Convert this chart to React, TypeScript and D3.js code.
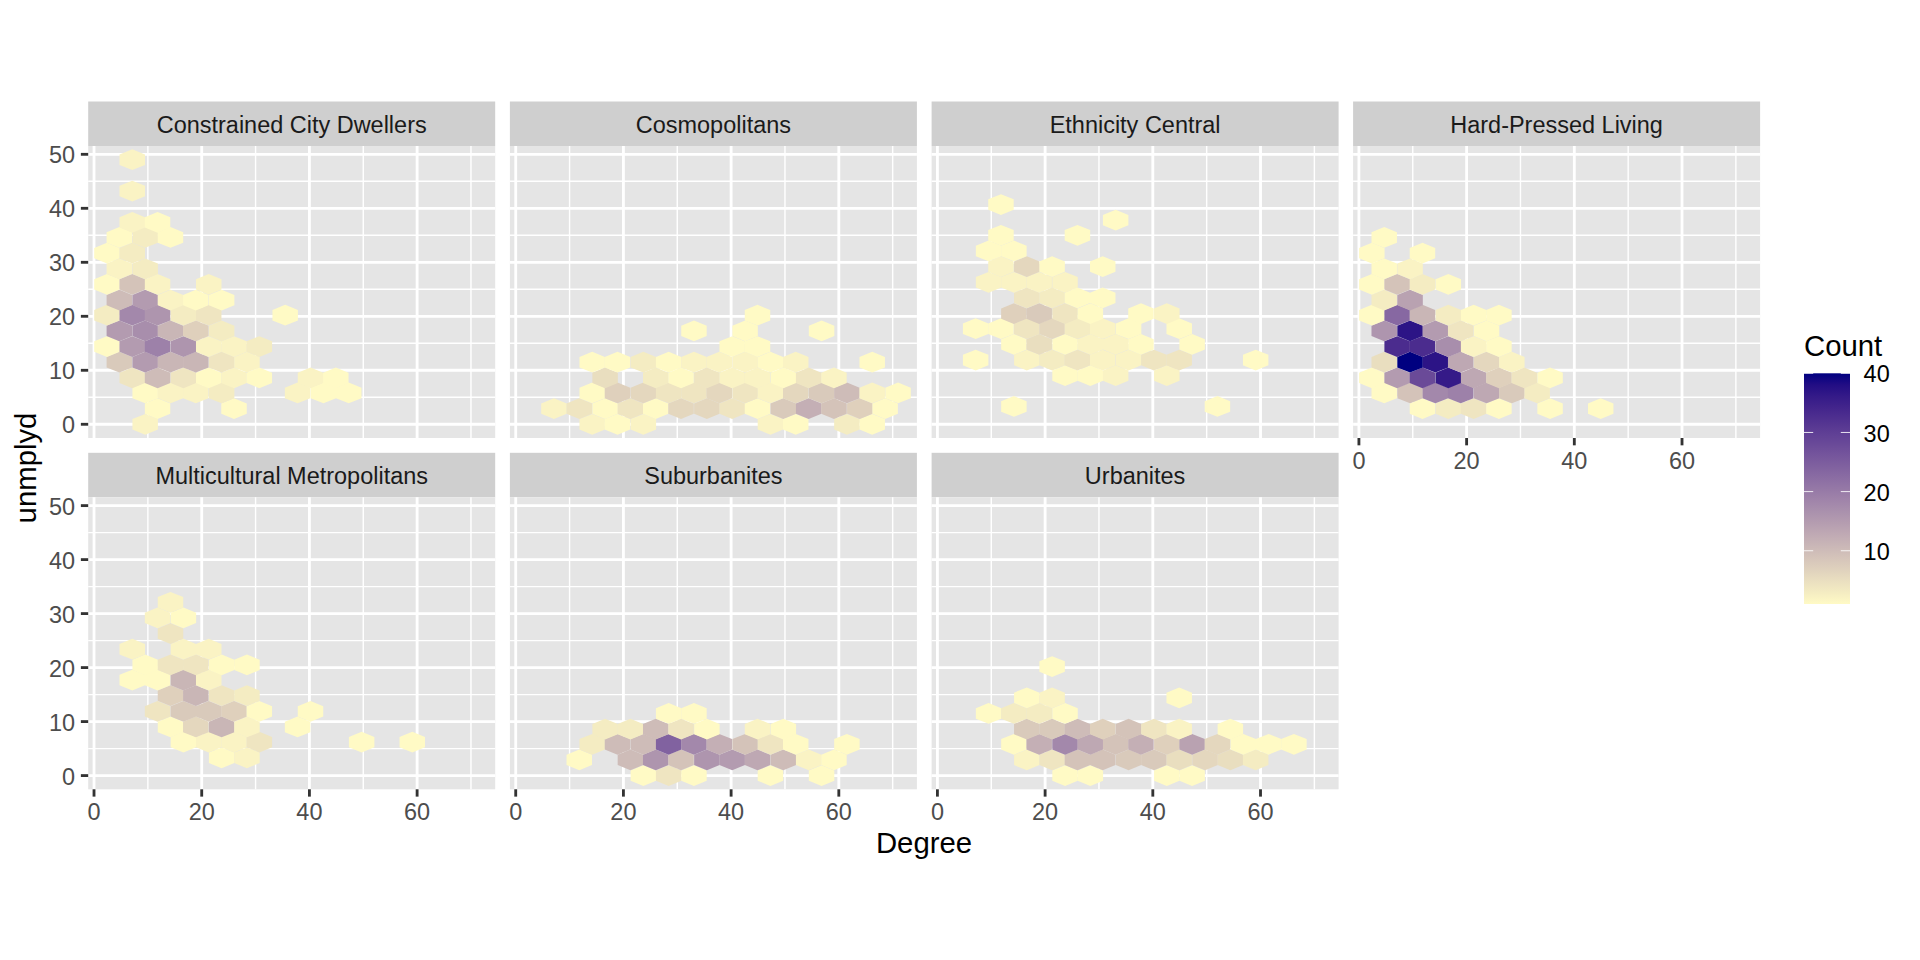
import React from "react";
import * as d3 from "d3";

type Cell = [number, number, number]; // degree, unmplyd, count

const constrainedCityDwellers: Cell[] = [
  [9.5,0,2],
  [11.8,2.9,1],[26,2.9,1],
  [9.5,5.8,1],[14.2,5.8,2],[18.9,5.8,2],[23.7,5.8,3],[37.8,5.8,2],[42.6,5.8,1],[47.3,5.8,1],
  [7.1,8.6,4],[11.8,8.6,10],[16.6,8.6,4],[21.3,8.6,1],[26,8.6,2],[30.7,8.6,1],[40.2,8.6,2],[44.9,8.6,1],
  [4.7,11.5,8],[9.5,11.5,15],[14.2,11.5,11],[18.9,11.5,11],[23.7,11.5,4],[28.4,11.5,2],
  [2.4,14.4,1],[7.1,14.4,15],[11.8,14.4,19],[16.6,14.4,16],[21.3,14.4,2],[26,14.4,2],[30.7,14.4,3],
  [4.7,17.3,15],[9.5,17.3,17],[14.2,17.3,11],[18.9,17.3,7],[23.7,17.3,3],
  [2.4,20.2,3],[7.1,20.2,18],[11.8,20.2,16],[16.6,20.2,3],[21.3,20.2,4],[35.5,20.2,1],
  [4.7,23,10],[9.5,23,15],[14.2,23,2],[18.9,23,1],[23.7,23,1],
  [2.4,25.9,1],[7.1,25.9,9],[11.8,25.9,2],[21.3,25.9,2],
  [4.7,28.8,2],[9.5,28.8,3],
  [2.4,31.7,1],[7.1,31.7,3],
  [4.7,34.6,1],[9.5,34.6,3],[14.2,34.6,1],
  [7.1,37.4,2],[11.8,37.4,1],
  [7.1,43.2,2],
  [7.1,49,2],
];

const cosmopolitans: Cell[] = [
  [14.2,0,2],[18.9,0,1],[23.7,0,2],[47.3,0,2],[52,0,1],[61.5,0,3],[66.2,0,1],
  [7.1,2.9,2],[11.8,2.9,4],[16.6,2.9,1],[21.3,2.9,4],[26,2.9,1],[30.7,2.9,6],[35.5,2.9,6],[40.2,2.9,4],[44.9,2.9,1],[49.7,2.9,8],[54.4,2.9,12],[59.1,2.9,9],[63.9,2.9,7],[68.6,2.9,1],
  [14.2,5.8,1],[18.9,5.8,7],[23.7,5.8,6],[28.4,5.8,4],[33.1,5.8,4],[37.8,5.8,6],[42.6,5.8,4],[47.3,5.8,2],[52,5.8,6],[56.8,5.8,8],[61.5,5.8,10],[66.2,5.8,2],[71,5.8,1],
  [16.6,8.6,5],[26,8.6,3],[30.7,8.6,1],[35.5,8.6,4],[40.2,8.6,2],[44.9,8.6,2],[49.7,8.6,1],[54.4,8.6,4],[59.1,8.6,2],
  [14.2,11.5,1],[18.9,11.5,1],[23.7,11.5,3],[28.4,11.5,1],[33.1,11.5,2],[37.8,11.5,2],[42.6,11.5,2],[47.3,11.5,1],[52,11.5,2],[66.2,11.5,1],
  [40.2,14.4,1],[44.9,14.4,1],
  [33.1,17.3,1],[42.6,17.3,1],[56.8,17.3,1],
  [44.9,20.2,1],
];

const ethnicityCentral: Cell[] = [
  [14.2,3.3,1],[52,3.3,1],
  [23.7,9,1],[28.4,9,1],[33.1,9,2],[42.6,9,2],
  [7.1,11.9,1],[16.6,11.9,2],[21.3,11.9,3],[26,11.9,4],[30.7,11.9,2],[35.5,11.9,2],[40.2,11.9,4],[44.9,11.9,4],[59.1,11.9,1],
  [14.2,14.8,1],[18.9,14.8,5],[23.7,14.8,1],[28.4,14.8,2],[33.1,14.8,2],[37.8,14.8,1],[47.3,14.8,1],
  [7.1,17.7,1],[11.8,17.7,1],[16.6,17.7,4],[21.3,17.7,6],[26,17.7,3],[30.7,17.7,2],[35.5,17.7,1],[44.9,17.7,1],
  [14.2,20.5,7],[18.9,20.5,8],[23.7,20.5,4],[28.4,20.5,1],[37.8,20.5,1],[42.6,20.5,2],
  [16.6,23.4,4],[21.3,23.4,3],[26,23.4,1],[30.7,23.4,1],
  [9.5,26.3,2],[14.2,26.3,2],[18.9,26.3,2],[23.7,26.3,2],
  [11.8,29.2,2],[16.6,29.2,6],[21.3,29.2,1],[30.7,29.2,1],
  [9.5,32.1,1],[14.2,32.1,1],
  [11.8,35,1],[26,35,1],
  [33.1,37.8,1],
  [11.8,40.7,1],
];

const hardPressedLiving: Cell[] = [
  [11.8,2.9,1],[16.6,2.9,3],[21.3,2.9,4],[26,2.9,1],[35.5,2.9,1],[44.9,2.9,1],
  [4.7,5.8,1],[9.5,5.8,9],[14.2,5.8,18],[18.9,5.8,19],[23.7,5.8,13],[28.4,5.8,8],[33.1,5.8,3],
  [2.4,8.6,1],[7.1,8.6,15],[11.8,8.6,28],[16.6,8.6,36],[21.3,8.6,13],[26,8.6,7],[30.7,8.6,4],[35.5,8.6,1],
  [4.7,11.5,5],[9.5,11.5,40],[14.2,11.5,37],[18.9,11.5,13],[23.7,11.5,6],[28.4,11.5,2],
  [7.1,14.4,33],[11.8,14.4,33],[16.6,14.4,17],[21.3,14.4,2],[26,14.4,1],
  [4.7,17.3,16],[9.5,17.3,37],[14.2,17.3,15],[18.9,17.3,4],[23.7,17.3,1],
  [2.4,20.2,1],[7.1,20.2,23],[11.8,20.2,11],[16.6,20.2,3],[21.3,20.2,1],[26,20.2,1],
  [4.7,23,3],[9.5,23,14],
  [2.4,25.9,1],[7.1,25.9,9],[11.8,25.9,3],[16.6,25.9,1],
  [4.7,28.8,1],[9.5,28.8,2],
  [2.4,31.7,1],[11.8,31.7,1],
  [4.7,34.6,1],
];

const multiculturalMetropolitans: Cell[] = [
  [23.7,3.3,1],[28.4,3.3,2],
  [16.6,6.2,1],[21.3,6.2,2],[26,6.2,2],[30.7,6.2,4],[49.7,6.2,1],[59.1,6.2,1],
  [14.2,9,1],[18.9,9,6],[23.7,9,11],[28.4,9,2],[37.8,9,1],
  [11.8,11.9,4],[16.6,11.9,8],[21.3,11.9,8],[26,11.9,7],[30.7,11.9,1],[40.2,11.9,1],
  [14.2,14.8,7],[18.9,14.8,11],[23.7,14.8,4],[28.4,14.8,3],
  [7.1,17.7,1],[11.8,17.7,1],[16.6,17.7,11],[21.3,17.7,2],
  [9.5,20.5,1],[14.2,20.5,4],[18.9,20.5,4],[23.7,20.5,1],[28.4,20.5,1],
  [7.1,23.4,2],[16.6,23.4,2],[21.3,23.4,2],
  [14.2,26.3,4],
  [11.8,29.2,2],[16.6,29.2,1],
  [14.2,32.1,2],
];

const suburbanites: Cell[] = [
  [23.7,0,1],[28.4,0,4],[33.1,0,1],[47.3,0,1],[56.8,0,1],
  [11.8,2.9,1],[21.3,2.9,10],[26,2.9,16],[30.7,2.9,9],[35.5,2.9,16],[40.2,2.9,15],[44.9,2.9,13],[49.7,2.9,10],[54.4,2.9,2],[59.1,2.9,1],
  [14.2,5.8,3],[18.9,5.8,10],[23.7,5.8,10],[28.4,5.8,24],[33.1,5.8,18],[37.8,5.8,12],[42.6,5.8,9],[47.3,5.8,4],[52,5.8,1],[61.5,5.8,1],
  [16.6,8.6,3],[21.3,8.6,3],[26,8.6,10],[30.7,8.6,4],[35.5,8.6,1],[44.9,8.6,2],[49.7,8.6,1],
  [28.4,11.5,1],[33.1,11.5,1],
];

const urbanites: Cell[] = [
  [23.7,0,1],[28.4,0,1],[42.6,0,1],[47.3,0,1],
  [16.6,2.9,2],[21.3,2.9,4],[26,2.9,9],[30.7,2.9,9],[35.5,2.9,8],[40.2,2.9,8],[44.9,2.9,5],[49.7,2.9,6],[54.4,2.9,5],[59.1,2.9,3],
  [14.2,5.8,1],[18.9,5.8,12],[23.7,5.8,18],[28.4,5.8,13],[33.1,5.8,9],[37.8,5.8,12],[42.6,5.8,7],[47.3,5.8,14],[52,5.8,6],[56.8,5.8,1],[61.5,5.8,1],[66.2,5.8,1],
  [16.6,8.6,8],[21.3,8.6,8],[26,8.6,10],[30.7,8.6,7],[35.5,8.6,9],[40.2,8.6,4],[44.9,8.6,2],[54.4,8.6,1],
  [9.5,11.5,1],[14.2,11.5,3],[18.9,11.5,3],[23.7,11.5,1],
  [16.6,14.4,1],[21.3,14.4,2],[44.9,14.4,1],
  [21.3,20.2,1],
];

const facetTitles = ["Constrained City Dwellers","Cosmopolitans","Ethnicity Central","Hard-Pressed Living","Multicultural Metropolitans","Suburbanites","Urbanites"];
const facetData = [constrainedCityDwellers,cosmopolitans,ethnicityCentral,hardPressedLiving,multiculturalMetropolitans,suburbanites,urbanites];
const xMajor = [0,20,40,60];
const xMinor = [10,30,50,70];
const yMajor = [0,10,20,30,40,50];
const yMinor = [5,15,25,35,45];
const legendTicks = [10,20,30,40];
const binWidth = 4.73;
const binHeight = 2.88;

const FONT = "'Liberation Sans', Arial, Helvetica, sans-serif";
const TEXT_S = 23.47, TEXT_L = 29.33;
const panelW = 407, panelH = 292, stripH = 44.5;
const colX = [88.2, 509.9, 931.6, 1353.1];
const rowY = [146, 497.3];

const x = d3.scaleLinear().domain([-1.08, 74.5]).range([0, panelW]);
const y = d3.scaleLinear().domain([-2.54, 51.54]).range([panelH, 0]);
const fill = d3.scaleLinear<string>().domain([1, 40]).range(["#FFFAC5", "#000080"]).interpolate(d3.interpolateLab);
const hexLine = d3.line<[number, number]>().x(d => x(d[0])).y(d => y(d[1]));

function hexPath(cx: number, cy: number) {
  const hw = binWidth / 2, r = binHeight / 1.5;
  return hexLine([[cx, cy + r],[cx + hw, cy + r / 2],[cx + hw, cy - r / 2],[cx, cy - r],[cx - hw, cy - r / 2],[cx - hw, cy + r / 2]]) + "Z";
}

function Panel({ index }: { index: number }) {
  const col = index % 4, row = Math.floor(index / 4);
  const showX = row === 1 || col === 3;
  const showY = col === 0;
  return (
    <g transform={`translate(${colX[col]},${rowY[row]})`}>
      <rect x={0} y={-stripH} width={panelW} height={stripH} fill="#CFCFCF" />
      <text x={panelW / 2} y={-stripH / 2} dy="0.39em" textAnchor="middle" fontSize={TEXT_S} fill="#1A1A1A">{facetTitles[index]}</text>
      <rect width={panelW} height={panelH} fill="#E5E5E5" />
      {xMinor.map(v => <line key={v} x1={x(v)} x2={x(v)} y1={0} y2={panelH} stroke="#fff" strokeWidth={1.42} />)}
      {yMinor.map(v => <line key={v} x1={0} x2={panelW} y1={y(v)} y2={y(v)} stroke="#fff" strokeWidth={1.42} />)}
      {xMajor.map(v => <line key={v} x1={x(v)} x2={x(v)} y1={0} y2={panelH} stroke="#fff" strokeWidth={2.84} />)}
      {yMajor.map(v => <line key={v} x1={0} x2={panelW} y1={y(v)} y2={y(v)} stroke="#fff" strokeWidth={2.84} />)}
      {facetData[index].map(([d, u, n], i) => <path key={i} d={hexPath(d, u)} fill={fill(n)} />)}
      {showX && xMajor.map(v => (
        <g key={v} transform={`translate(${x(v)},${panelH})`}>
          <line y1={0} y2={7.33} stroke="#333" strokeWidth={2.84} />
          <text y={30.8} textAnchor="middle" fontSize={TEXT_S} fill="#4D4D4D">{v}</text>
        </g>
      ))}
      {showY && yMajor.map(v => (
        <g key={v} transform={`translate(0,${y(v)})`}>
          <line x1={-7.33} x2={0} stroke="#333" strokeWidth={2.84} />
          <text x={-13.2} dy="0.39em" textAnchor="end" fontSize={TEXT_S} fill="#4D4D4D">{v}</text>
        </g>
      ))}
    </g>
  );
}

function Legend() {
  const left = 1804, w = 46, top = 373.3, bottom = 604;
  const ly = d3.scaleLinear().domain([1, 40]).range([bottom, top]);
  const stops = d3.range(0, 1.0001, 0.05);
  return (
    <g>
      <defs>
        <linearGradient id="countBar" x1="0" y1="1" x2="0" y2="0">
          {stops.map(t => <stop key={t} offset={t} stopColor={fill(1 + 39 * t)} />)}
        </linearGradient>
      </defs>
      <text x={left} y={356} fontSize={TEXT_L} fill="#000">Count</text>
      <rect x={left} y={top} width={w} height={bottom - top} fill="url(#countBar)" />
      {legendTicks.map(v => (
        <g key={v} transform={`translate(0,${ly(v)})`}>
          <line x1={left} x2={left + 9.2} stroke="#fff" strokeOpacity={0.85} strokeWidth={1} />
          <line x1={left + w - 9.2} x2={left + w} stroke="#fff" strokeOpacity={0.85} strokeWidth={1} />
          <text x={1889.7} dy="0.39em" textAnchor="end" fontSize={TEXT_S} fill="#000">{v}</text>
        </g>
      ))}
    </g>
  );
}

export default function App() {
  return (
    <svg width={1920} height={960} viewBox="0 0 1920 960" style={{ position: "absolute", left: 0, top: 0, display: "block" }} fontFamily={FONT}>
      <rect width={1920} height={960} fill="#fff" />
      {facetTitles.map((_, i) => <Panel key={i} index={i} />)}
      <Legend />
      <text x={924} y={852.7} textAnchor="middle" fontSize={TEXT_L} fill="#000">Degree</text>
      <text transform="translate(36,468) rotate(-90)" textAnchor="middle" fontSize={TEXT_L} fill="#000">unmplyd</text>
    </svg>
  );
}
